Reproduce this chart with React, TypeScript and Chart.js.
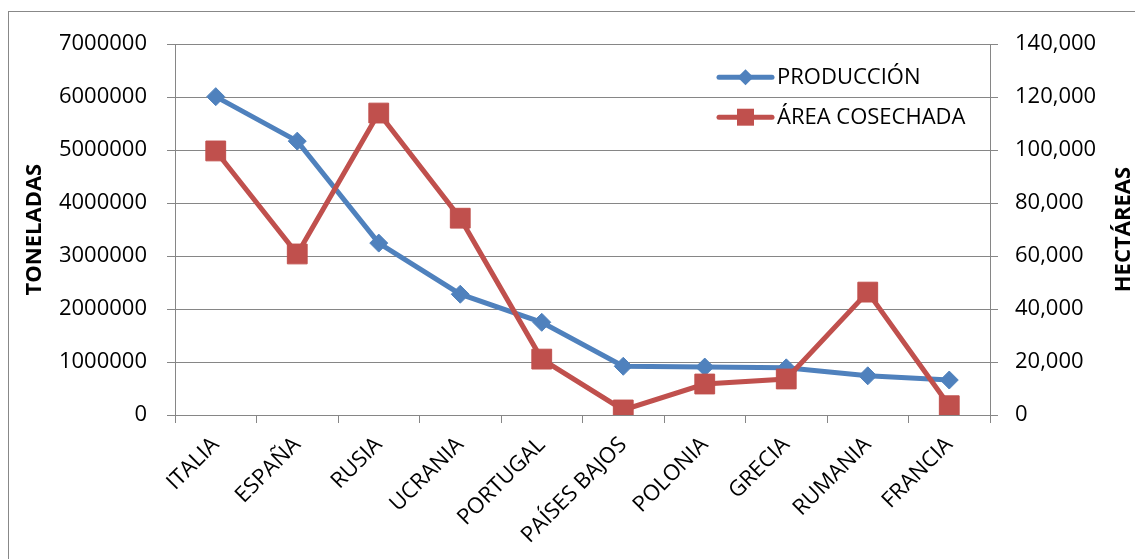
import React, { useEffect, useRef } from 'react';
import { Chart, registerables } from 'chart.js';

Chart.register(...registerables);

const categories = ['ITALIA', 'ESPAÑA', 'RUSIA', 'UCRANIA', 'PORTUGAL', 'PAÍSES BAJOS', 'POLONIA', 'GRECIA', 'RUMANIA', 'FRANCIA'];
const produccion = [6010000, 5170000, 3245000, 2280000, 1750000, 920000, 905000, 890000, 740000, 660000];
const areaCosechada = [99700, 60800, 114000, 74300, 21100, 1900, 11700, 13600, 46400, 3500];
const seriesNames = ['PRODUCCIÓN', 'ÁREA COSECHADA'];
const leftAxisTitle = 'TONELADAS';
const rightAxisTitle = 'HECTÁREAS';

const BLUE = '#4F81BD';
const RED = '#C0504D';
const GRID = '#868686';
const FONT = "'Open Sans', sans-serif";
const W = 1127;
const H = 543;

function marker(ctx: CanvasRenderingContext2D, style: string, x: number, y: number, r: number) {
  ctx.beginPath();
  if (style === 'rect') {
    const s = r * Math.SQRT1_2;
    ctx.rect(x - s, y - s, 2 * s, 2 * s);
  } else {
    ctx.moveTo(x - r, y);
    ctx.lineTo(x, y - r);
    ctx.lineTo(x + r, y);
    ctx.lineTo(x, y + r);
    ctx.closePath();
  }
  ctx.fill();
}

const overlayPlugin = {
  id: 'overlay',
  afterDraw(chart: any) {
    const ctx = chart.ctx;
    const ca = chart.chartArea;
    ctx.save();
    ctx.fillStyle = '#000';
    ctx.font = `bold 22px ${FONT}`;
    ctx.textAlign = 'center';
    ctx.textBaseline = 'middle';
    const cy = (ca.top + ca.bottom) / 2;
    ctx.save();
    ctx.translate(27, cy);
    ctx.rotate(-Math.PI / 2);
    ctx.fillText(leftAxisTitle, 0, 0);
    ctx.restore();
    ctx.save();
    ctx.translate(W - 11, cy);
    ctx.rotate(-Math.PI / 2);
    ctx.fillText(rightAxisTitle, 0, 0);
    ctx.restore();

    const items = [
      { label: seriesNames[0], color: BLUE, style: 'rectRot', r: 8 },
      { label: seriesNames[1], color: RED, style: 'rect', r: 12 },
    ];
    const lx0 = ca.right - 271;
    const lx1 = ca.right - 218;
    items.forEach((it, i) => {
      const y = ca.top + 33 + i * 40;
      ctx.strokeStyle = it.color;
      ctx.lineWidth = 5;
      ctx.lineCap = 'round';
      ctx.beginPath();
      ctx.moveTo(lx0, y);
      ctx.lineTo(lx1, y);
      ctx.stroke();
      ctx.fillStyle = it.color;
      marker(ctx, it.style, (lx0 + lx1) / 2, y, it.r);
      ctx.fillStyle = '#000';
      ctx.font = `22px ${FONT}`;
      ctx.textAlign = 'left';
      ctx.textBaseline = 'middle';
      ctx.fillText(it.label, lx1 + 5, y + 1);
    });
    ctx.restore();
  },
};

export default function App() {
  const ref = useRef<HTMLCanvasElement | null>(null);
  useEffect(() => {
    const canvas = ref.current;
    if (!canvas) return;
    const chart = new Chart(canvas, {
      type: 'line',
      data: {
        labels: categories,
        datasets: [
          {
            label: seriesNames[0],
            data: produccion,
            yAxisID: 'y',
            borderColor: BLUE,
            backgroundColor: BLUE,
            borderWidth: 5,
            pointStyle: 'rectRot',
            pointRadius: 9,
            pointBorderWidth: 1,
            tension: 0,
            order: 1,
          },
          {
            label: seriesNames[1],
            data: areaCosechada,
            yAxisID: 'y1',
            borderColor: RED,
            backgroundColor: RED,
            borderWidth: 5,
            pointStyle: 'rect',
            pointRadius: 14,
            pointBorderWidth: 1,
            tension: 0,
            order: 0,
          },
        ],
      },
      options: {
        responsive: false,
        animation: false,
        layout: { padding: { top: 33, left: 0, right: 0, bottom: 0 } },
        plugins: { legend: { display: false }, tooltip: { enabled: false } },
        scales: {
          x: {
            type: 'category',
            offset: true,
            grid: { offset: true, drawOnChartArea: false, drawTicks: true, tickLength: 8, color: GRID, lineWidth: 1 },
            border: { color: GRID, width: 1 },
            ticks: { font: { family: FONT, size: 22 }, color: '#000', maxRotation: 45, minRotation: 45, padding: 9, autoSkip: false },
            afterFit: (s: any) => { s.height = 139; },
          },
          y: {
            position: 'left',
            min: 0,
            max: 7000000,
            grid: { color: GRID, lineWidth: 1, tickLength: 8 },
            border: { color: GRID, width: 1 },
            ticks: { stepSize: 1000000, font: { family: FONT, size: 22 }, color: '#000', padding: 20, callback: (v: any) => String(v) },
            afterFit: (s: any) => { s.width = 167; },
          },
          y1: {
            position: 'right',
            min: 0,
            max: 140000,
            grid: { drawOnChartArea: false, color: GRID, lineWidth: 1, tickLength: 8 },
            border: { color: GRID, width: 1 },
            ticks: { stepSize: 20000, font: { family: FONT, size: 22 }, color: '#000', padding: 17, callback: (v: any) => Number(v).toLocaleString('en-US') },
            afterFit: (s: any) => { s.width = 145; },
          },
        },
      },
      plugins: [overlayPlugin],
    });
    return () => chart.destroy();
  }, []);

  return (
    <div style={{ position: 'fixed', left: 8, top: 11, width: W, height: 548, overflow: 'hidden', background: '#fff' }}>
      <div style={{ position: 'absolute', left: 0, top: 0, width: W + 20, height: H + 30, border: '1px solid #888', boxSizing: 'border-box' }} />
      <canvas ref={ref} width={W} height={H} style={{ position: 'absolute', left: 0, top: 0, display: 'block' }} />
    </div>
  );
}
